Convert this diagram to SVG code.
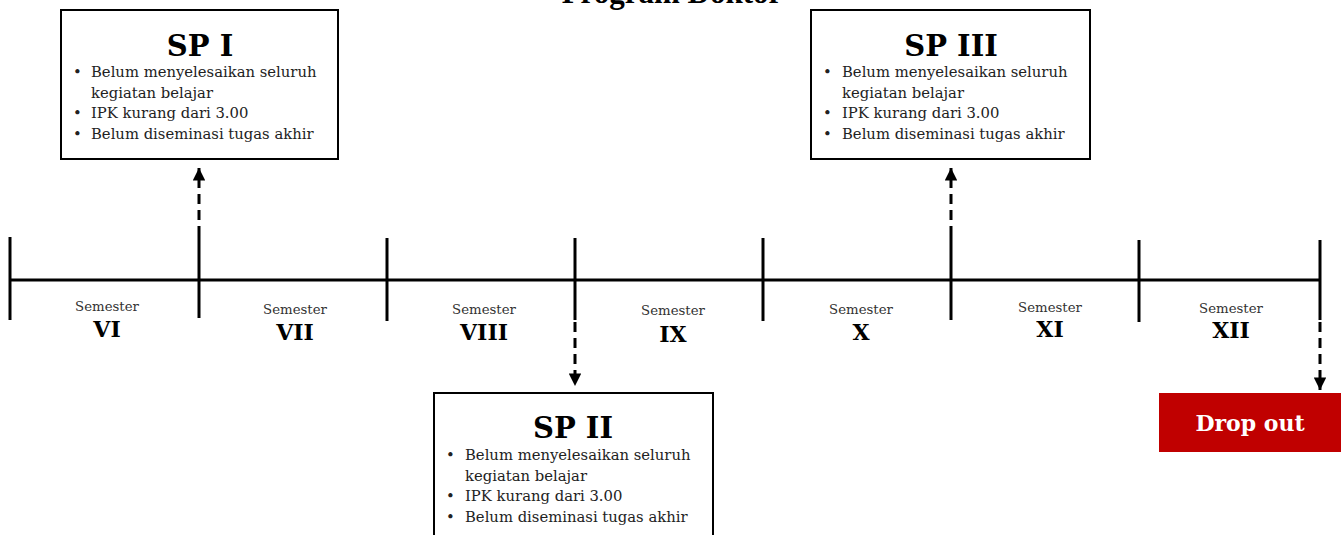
<svg xmlns="http://www.w3.org/2000/svg" width="1344" height="535" viewBox="0 0 1344 535">
<defs>
<marker id="ah" viewBox="0 0 10 10" refX="10" refY="5" markerWidth="4.2" markerHeight="4.2" markerUnits="strokeWidth" orient="auto">
<path d="M0,0 L10,5 L0,10 z" fill="#000"/>
</marker>
<style>
.box{fill:#fff;stroke:#000;stroke-width:2}
.t{font-family:"Liberation Serif",serif;fill:#000}
.h{font-family:"DejaVu Serif","Liberation Serif",serif;font-weight:bold;font-size:29px;text-anchor:middle}
.b{font-family:"DejaVu Serif","Liberation Serif",serif;font-size:14.8px;fill:#222}
.sem{font-family:"DejaVu Serif","Liberation Serif",serif;font-size:13.3px;text-anchor:middle;fill:#333}
.num{font-family:"DejaVu Serif","Liberation Serif",serif;font-size:22px;font-weight:bold;text-anchor:middle}
.tl{stroke:#000;stroke-width:3;fill:none}
.dash{stroke:#000;stroke-width:3;stroke-dasharray:10,6;fill:none}
</style>
</defs>
<text x="672" y="3" class="t" font-size="31" font-weight="bold" text-anchor="middle">Program Doktor</text>
<g id="timeline">
<line class="tl" x1="10" y1="280" x2="1320" y2="280"/>
<line class="tl" x1="10" y1="237" x2="10" y2="320"/>
<line class="tl" x1="199" y1="236" x2="199" y2="318"/>
<line class="tl" x1="387" y1="238" x2="387" y2="321"/>
<line class="tl" x1="575" y1="238" x2="575" y2="320"/>
<line class="tl" x1="763" y1="238" x2="763" y2="321"/>
<line class="tl" x1="951" y1="236" x2="951" y2="320"/>
<line class="tl" x1="1139" y1="240" x2="1139" y2="322"/>
<line class="tl" x1="1320" y1="240" x2="1320" y2="320"/>
</g>
<g id="labels">
<text class="sem" x="107" y="311">Semester</text><text class="num" x="107" y="337">VI</text>
<text class="sem" x="295" y="314">Semester</text><text class="num" x="295" y="340">VII</text>
<text class="sem" x="484" y="314">Semester</text><text class="num" x="484" y="340">VIII</text>
<text class="sem" x="673" y="315">Semester</text><text class="num" x="673" y="342">IX</text>
<text class="sem" x="861" y="314">Semester</text><text class="num" x="861" y="340">X</text>
<text class="sem" x="1050" y="312">Semester</text><text class="num" x="1050" y="337">XI</text>
<text class="sem" x="1231" y="313">Semester</text><text class="num" x="1231" y="338">XII</text>
</g>
<g id="connectors">
<line class="dash" x1="199" y1="236" x2="199" y2="168" marker-end="url(#ah)"/>
<line class="dash" x1="575" y1="322" x2="575" y2="386" marker-end="url(#ah)"/>
<line class="dash" x1="951" y1="236" x2="951" y2="168" marker-end="url(#ah)"/>
<line class="dash" x1="1320" y1="322" x2="1320" y2="390" marker-end="url(#ah)"/>
</g>
<g id="sp1">
<rect class="box" x="61" y="10" width="277" height="149"/>
<text class="h" x="200" y="56">SP I</text>
<text class="b" x="73" y="77">•</text><text class="b" x="91" y="77">Belum menyelesaikan seluruh</text>
<text class="b" x="91" y="98">kegiatan belajar</text>
<text class="b" x="73" y="118">•</text><text class="b" x="91" y="118">IPK kurang dari 3.00</text>
<text class="b" x="73" y="139">•</text><text class="b" x="91" y="139">Belum diseminasi tugas akhir</text>
</g>
<g id="sp3">
<rect class="box" x="811" y="10" width="279" height="149"/>
<text class="h" x="951" y="56">SP III</text>
<text class="b" x="823" y="77">•</text><text class="b" x="842" y="77">Belum menyelesaikan seluruh</text>
<text class="b" x="842" y="98">kegiatan belajar</text>
<text class="b" x="823" y="118">•</text><text class="b" x="842" y="118">IPK kurang dari 3.00</text>
<text class="b" x="823" y="139">•</text><text class="b" x="842" y="139">Belum diseminasi tugas akhir</text>
</g>
<g id="sp2">
<rect class="box" x="434" y="393" width="279" height="160"/>
<text class="h" x="573" y="438">SP II</text>
<text class="b" x="446" y="460">•</text><text class="b" x="465" y="460">Belum menyelesaikan seluruh</text>
<text class="b" x="465" y="481">kegiatan belajar</text>
<text class="b" x="446" y="501">•</text><text class="b" x="465" y="501">IPK kurang dari 3.00</text>
<text class="b" x="446" y="522">•</text><text class="b" x="465" y="522">Belum diseminasi tugas akhir</text>
</g>
<g id="dropout">
<rect x="1159" y="393" width="182" height="59" fill="#C00000"/>
<text x="1250" y="431" font-family="DejaVu Serif, serif" font-weight="bold" font-size="22" fill="#fff" text-anchor="middle">Drop out</text>
</g>
</svg>
